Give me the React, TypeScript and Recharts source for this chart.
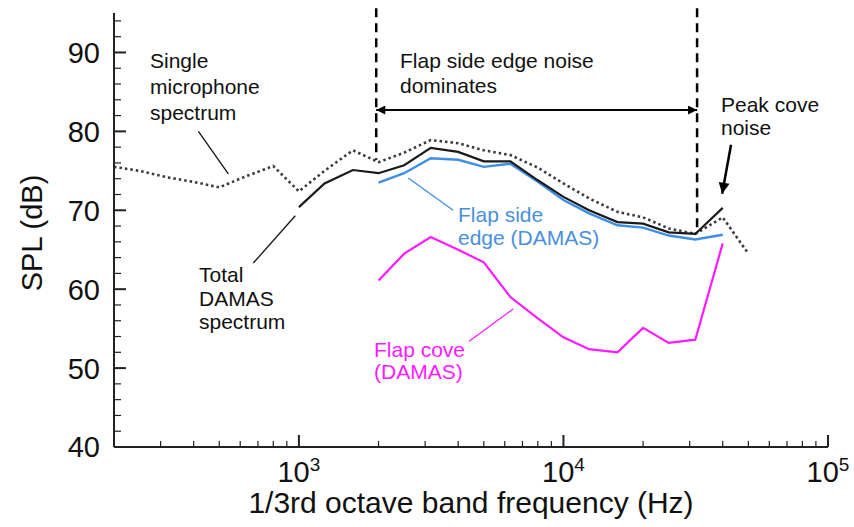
import React from 'react';
import { LineChart, Line, XAxis, YAxis, ReferenceLine, Customized } from 'recharts';

const FONT = '"Liberation Sans", Arial, Helvetica, sans-serif';

// 1/3 octave band centre frequencies (Hz)
const freqs = [200, 250, 315, 400, 500, 630, 800, 1000, 1250, 1600, 2000, 2500, 3150, 4000, 5000, 6300, 8000, 10000, 12500, 16000, 20000, 25000, 31500, 40000, 50000];

// SPL (dB)
const singleMic = [75.5, 75.0, 74.2, 73.6, 72.9, 74.3, 75.6, 72.4, 75.0, 77.6, 76.1, 77.3, 78.9, 78.5, 77.6, 77.0, 75.4, 73.4, 71.5, 69.8, 69.1, 67.7, 67.0, 69.1, 64.5];
const totalDamas = [null, null, null, null, null, null, null, 70.4, 73.4, 75.1, 74.7, 75.7, 77.9, 77.4, 76.2, 76.2, 73.8, 71.7, 70.0, 68.5, 68.3, 67.2, 67.0, 70.3, null];
const sideEdge = [null, null, null, null, null, null, null, null, null, null, 73.5, 74.7, 76.6, 76.4, 75.5, 75.9, 73.6, 71.3, 69.6, 68.1, 67.8, 66.8, 66.3, 66.9, null];
const flapCove = [null, null, null, null, null, null, null, null, null, null, 61.1, 64.5, 66.6, 65.0, 63.4, 59.0, 56.3, 53.9, 52.4, 52.0, 55.1, 53.2, 53.6, 65.8, null];

const xTicks = [300, 400, 500, 600, 700, 800, 900, 1000, 2000, 3000, 4000, 5000, 6000, 7000, 8000, 9000, 10000, 20000, 30000, 40000, 50000, 60000, 70000, 80000, 90000, 100000];
const yTicks = [40, 42, 44, 46, 48, 50, 52, 54, 56, 58, 60, 62, 64, 66, 68, 70, 72, 74, 76, 78, 80, 82, 84, 86, 88, 90, 92, 94];

// band where flap side edge noise dominates, and annotation pointers (data units)
const bandEdges = [1960, 32000];
const bandTop = 95.6;
const bandBottoms = [76.4, 67.2];
const bandArrowY = 82.7;
const peakArrow = [{ x: 43000, y: 78.3 }, { x: 39800, y: 72.1 }];
const leaders = [
  { from: { x: 417, y: 80.0 }, to: { x: 541, y: 74.6 }, color: '#111' },
  { from: { x: 969, y: 69.3 }, to: { x: 672, y: 63.3 }, color: '#111' },
  { from: { x: 2590, y: 74.1 }, to: { x: 3830, y: 70.0 }, color: '#3d8fe6' },
  { from: { x: 4400, y: 53.4 }, to: { x: 6460, y: 57.5 }, color: '#ff1aff' },
];

const data = freqs.map((f, i) => ({
  f,
  single: singleMic[i],
  total: totalDamas[i],
  side: sideEdge[i],
  cove: flapCove[i],
}));

const XTick = (props: any) => {
  const { x, y, payload } = props;
  const v = payload.value as number;
  const lg = Math.log10(v);
  const major = Math.abs(lg - Math.round(lg)) < 1e-6;
  return (
    <g>
      <line x1={x} x2={x} y1={y} y2={y - (major ? 12 : 6)} stroke="#222" strokeWidth={major ? 2 : 1.2} />
      {major && (
        <text x={x} y={y + 35} textAnchor="middle" fontFamily={FONT} fontSize={29} fill="#111">
          <tspan>10</tspan>
          <tspan dy={-11} fontSize={19}>{Math.round(lg)}</tspan>
        </text>
      )}
    </g>
  );
};

const YTick = (props: any) => {
  const { x, y, payload } = props;
  const v = payload.value as number;
  const major = v % 10 === 0;
  return (
    <g>
      <line x1={x} x2={x + (major ? 12 : 7)} y1={y} y2={y} stroke="#222" strokeWidth={major ? 2 : 1.2} />
      {major && (
        <text x={x - 14} y={y} dy="0.36em" textAnchor="end" fontFamily={FONT} fontSize={29} fill="#111">
          {v}
        </text>
      )}
    </g>
  );
};

const Labels = () => (
  <g fontFamily={FONT}>
    <defs>
      <marker id="headA" viewBox="0 0 10 10" refX="10" refY="5" markerWidth="8" markerHeight="4.5" orient="auto-start-reverse">
        <path d="M0,0 L10,5 L0,10 z" fill="#000" />
      </marker>
      <marker id="headB" viewBox="0 0 10 10" refX="10" refY="5" markerWidth="6" markerHeight="4.4" orient="auto">
        <path d="M0,0 L10,5 L0,10 z" fill="#000" />
      </marker>
    </defs>
    <text x={42} y={233} transform="rotate(-90 42 233)" textAnchor="middle" fontSize={29} fill="#111">SPL (dB)</text>
    <text x={471} y={513} textAnchor="middle" fontSize={30} fill="#111">1/3rd octave band frequency (Hz)</text>

    <g fontSize={21} fill="#111">
      <text x={150} y={68}>Single</text>
      <text x={150} y={94}>microphone</text>
      <text x={150} y={120}>spectrum</text>
      <text x={400} y={68}>Flap side edge noise</text>
      <text x={400} y={93}>dominates</text>
      <text x={721} y={112}>Peak cove</text>
      <text x={721} y={135}>noise</text>
      <text x={199} y={282}>Total</text>
      <text x={199} y={306}>DAMAS</text>
      <text x={199} y={329}>spectrum</text>
    </g>
    <g fontSize={21} fill="#4a8fdc">
      <text x={458} y={222}>Flap side</text>
      <text x={458} y={245}>edge (DAMAS)</text>
    </g>
    <g fontSize={21} fill="#ff1aff">
      <text x={374} y={357}>Flap cove</text>
      <text x={374} y={379}>(DAMAS)</text>
    </g>
  </g>
);

export default function App() {
  return (
    <div style={{ position: 'absolute', left: 0, top: 0, width: 854, height: 527, background: '#fff' }}>
      <LineChart width={854} height={527} data={data} margin={{ top: 13, right: 26, bottom: 0, left: 0 }}>
        <XAxis
          dataKey="f"
          type="number"
          scale="log"
          domain={[200, 100000]}
          allowDataOverflow
          ticks={xTicks}
          interval={0}
          tick={<XTick />}
          tickLine={false}
          tickSize={0}
          tickMargin={0}
          height={80}
          axisLine={{ stroke: '#222', strokeWidth: 2 }}
        />
        <YAxis
          type="number"
          domain={[40, 95]}
          allowDataOverflow
          ticks={yTicks}
          interval={0}
          tick={<YTick />}
          tickLine={false}
          tickSize={0}
          tickMargin={0}
          width={114}
          axisLine={{ stroke: '#222', strokeWidth: 2 }}
        />

        {bandEdges.map((x, i) => (
          <ReferenceLine
            key={`band-${i}`}
            segment={[{ x, y: bandTop }, { x, y: bandBottoms[i] }]}
            ifOverflow="visible"
            shape={(p: any) => (
              <line x1={p.x1} y1={p.y1} x2={p.x2} y2={p.y2} stroke="#000" strokeWidth={2.5} strokeDasharray="9 6" />
            )}
          />
        ))}
        <ReferenceLine
          segment={[{ x: bandEdges[0], y: bandArrowY }, { x: bandEdges[1], y: bandArrowY }]}
          ifOverflow="visible"
          shape={(p: any) => (
            <line x1={p.x1} y1={p.y1} x2={p.x2} y2={p.y2} stroke="#000" strokeWidth={2}
              markerStart="url(#headA)" markerEnd="url(#headA)" />
          )}
        />
        <ReferenceLine
          segment={peakArrow}
          ifOverflow="visible"
          shape={(p: any) => (
            <line x1={p.x1} y1={p.y1} x2={p.x2} y2={p.y2} stroke="#000" strokeWidth={2.5} markerEnd="url(#headB)" />
          )}
        />
        {leaders.map((l, i) => (
          <ReferenceLine
            key={`lead-${i}`}
            segment={[l.from, l.to]}
            ifOverflow="visible"
            shape={(p: any) => (
              <line x1={p.x1} y1={p.y1} x2={p.x2} y2={p.y2} stroke={l.color} strokeWidth={1.3} />
            )}
          />
        ))}

        <Line dataKey="single" stroke="#3a3a3a" strokeWidth={2.6} strokeDasharray="2.5 3" dot={false} activeDot={false} isAnimationActive={false} />
        <Line dataKey="cove" stroke="#ff1aff" strokeWidth={2.2} dot={false} activeDot={false} isAnimationActive={false} />
        <Line dataKey="side" stroke="#3d8fe6" strokeWidth={2.4} dot={false} activeDot={false} isAnimationActive={false} />
        <Line dataKey="total" stroke="#1a1a1a" strokeWidth={2.2} dot={false} activeDot={false} isAnimationActive={false} />

        <Customized component={<Labels />} />
      </LineChart>
    </div>
  );
}
